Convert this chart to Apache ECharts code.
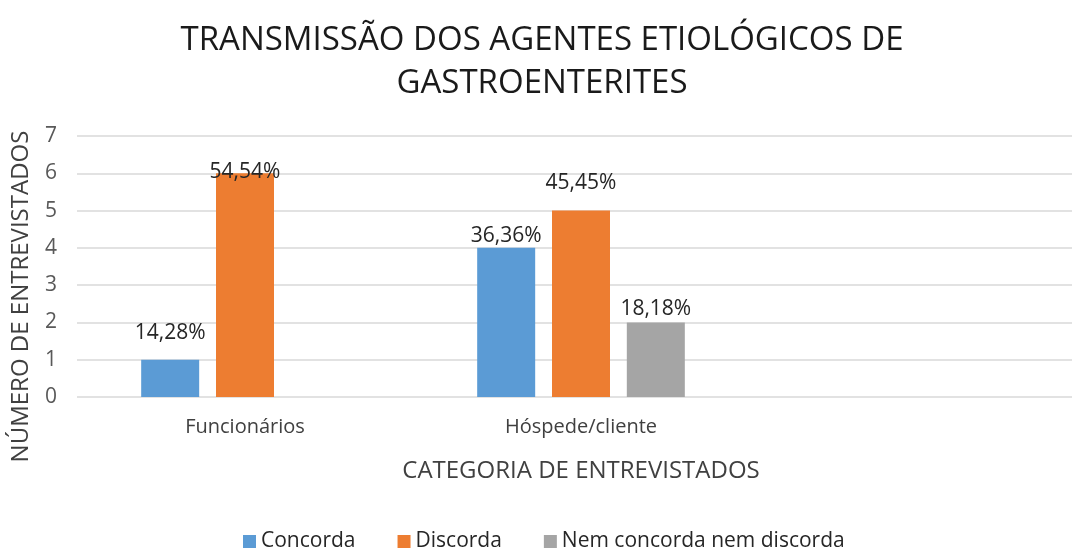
<!DOCTYPE html>
<html>
<head>
<meta charset="utf-8">
<script src="https://cdn.jsdelivr.net/npm/echarts@6/dist/echarts.min.js"></script>
<style>
  html, body { margin: 0; padding: 0; background: #fff; }
  #chart { width: 1072px; height: 550px; }
</style>
</head>
<body>
<div id="chart"></div>
<script>
// categories (third slot is empty, as in the original sheet)
var categories = ["Funcionários", "Hóspede/cliente", ""];
var seriesNames = ["Concorda", "Discorda", "Nem concorda nem discorda"];
var concorda = [1, 4, null];
var discorda = [6, 5, null];
var nemNem = [null, 2, null];
var concordaLabels = ["14,28%", "36,36%", ""];
var discordaLabels = ["54,54%", "45,45%", ""];
var nemNemLabels = ["", "18,18%", ""];
var yTicks = [0, 7, 1];

var colors = ["#5B9BD5", "#ED7D31", "#A5A5A5"];
var FONT = "'Open Sans', sans-serif";

// label distance above each bar, Excel puts them a bit unevenly
var nudges = [[16, 1, 0], [-9, 17, 0], [0, 3, 0]];

function build(values, labels, idx) {
  return values.map(function (v, i) {
    return {
      value: v,
      label: {
        show: v != null,
        position: "top",
        distance: nudges[idx][i],
        formatter: labels[i],
        color: "#262626",
        fontFamily: FONT,
        fontSize: 21
      }
    };
  });
}

var achart = echarts.init(document.getElementById("chart"));
var option = {
  backgroundColor: "#fff",
  animation: false,
  color: colors,
  title: {
    text: "TRANSMISSÃO DOS AGENTES ETIOLÓGICOS DE\nGASTROENTERITES",
    left: 537,
    textAlign: "center",
    top: 14,
    textStyle: {
      color: "#1a1a1a",
      fontFamily: FONT,
      fontWeight: "normal",
      fontSize: 33,
      lineHeight: 43
    }
  },
  legend: {
    left: 238,
    top: 526,
    itemWidth: 13,
    itemHeight: 13,
    itemGap: 42,
    icon: "rect",
    data: seriesNames,
    textStyle: { color: "#262626", fontFamily: FONT, fontSize: 21 }
  },
  grid: {
    left: 77, width: 1008, top: 136, bottom: 153,
    containLabel: false, outerBoundsMode: "none"
  },
  xAxis: {
    type: "category",
    data: categories,
    name: "CATEGORIA DE ENTREVISTADOS",
    nameLocation: "middle",
    nameGap: 62,
    nameTextStyle: { color: "#404040", fontFamily: FONT, fontSize: 24 },
    axisLine: { show: false },
    axisTick: { show: false },
    axisLabel: { color: "#404040", fontFamily: FONT, fontSize: 20, margin: 20 }
  },
  yAxis: {
    type: "value",
    min: yTicks[0],
    max: yTicks[1],
    interval: yTicks[2],
    name: "NÚMERO DE ENTREVISTADOS",
    nameLocation: "middle",
    nameGap: 44,
    nameTextStyle: { color: "#404040", fontFamily: FONT, fontSize: 24, padding: [0, 60, 0, 0] },
    axisLine: { show: false },
    axisTick: { show: false },
    axisLabel: { color: "#595959", fontFamily: FONT, fontSize: 21, margin: 20 },
    splitLine: { lineStyle: { color: "#D9D9D9", width: 1.5 } }
  },
  series: [
    { name: seriesNames[0], type: "bar", barWidth: 58, barGap: "29%", barCategoryGap: "38%", data: build(concorda, concordaLabels, 0) },
    { name: seriesNames[1], type: "bar", barWidth: 58, barGap: "29%", barCategoryGap: "38%", data: build(discorda, discordaLabels, 1) },
    { name: seriesNames[2], type: "bar", barWidth: 58, barGap: "29%", barCategoryGap: "38%", data: build(nemNem, nemNemLabels, 2) }
  ]
};
achart.setOption(option);
</script>
</body>
</html>
